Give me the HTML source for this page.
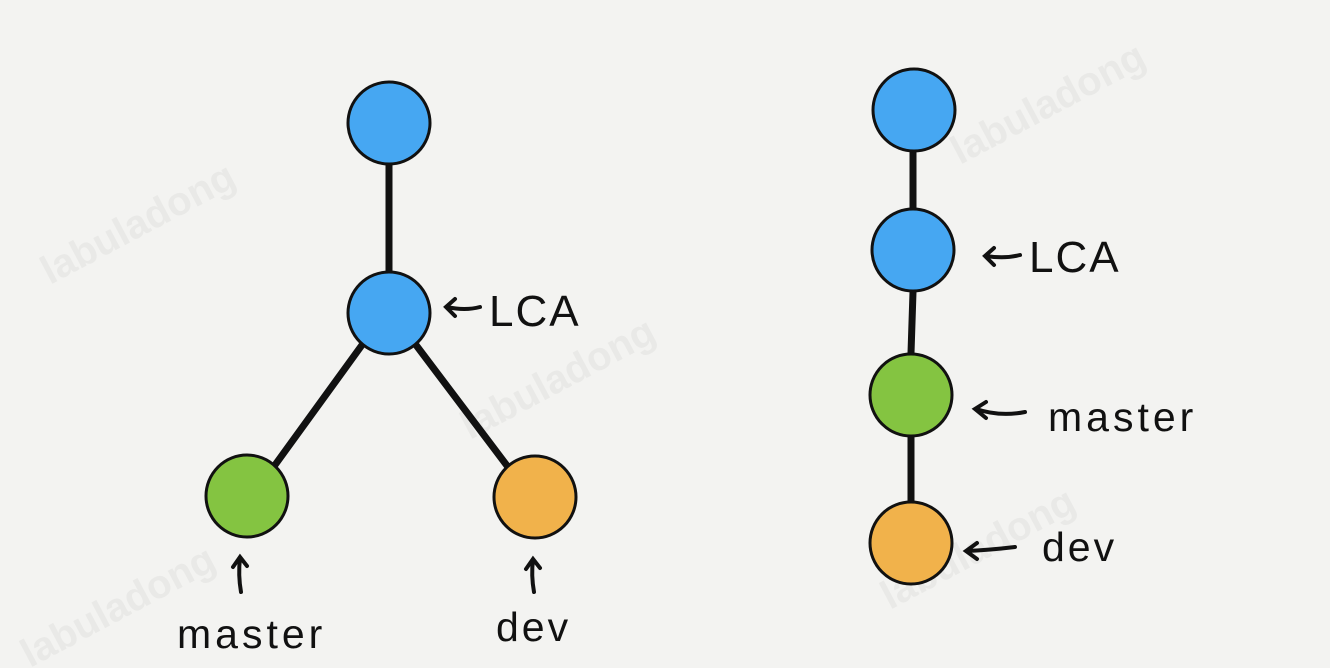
<!DOCTYPE html>
<html><head><meta charset="utf-8"><style>
html,body{margin:0;padding:0;background:#f3f3f1;}
svg{display:block}
text{font-family:"Liberation Sans","DejaVu Sans",sans-serif;fill:#111;font-size:40px;}
.wm{fill:#e9e9e7;font-size:40px;font-weight:bold}
</style></head><body>
<svg width="1330" height="668" viewBox="0 0 1330 668">
<rect width="1330" height="668" fill="#f3f3f1"/>
<text class="wm" transform="translate(50,285) rotate(-28)">labuladong</text>
<text class="wm" transform="translate(470,440) rotate(-28)">labuladong</text>
<text class="wm" transform="translate(960,165) rotate(-28)">labuladong</text>
<text class="wm" transform="translate(890,610) rotate(-28)">labuladong</text>
<text class="wm" transform="translate(30,668) rotate(-28)">labuladong</text>
<g stroke="#111" stroke-width="7" stroke-linecap="round" fill="none">
<line x1="389" y1="165" x2="389" y2="272"/>
<line x1="362" y1="345" x2="275" y2="465"/>
<line x1="416" y1="345" x2="508" y2="467"/>
<line x1="913" y1="152" x2="913" y2="208"/>
<line x1="913" y1="292" x2="911" y2="353"/>
<line x1="911" y1="437" x2="911" y2="501"/>
</g>
<g stroke="#111" stroke-width="3">
<circle cx="389" cy="123" r="41" fill="#46a7f2"/>
<circle cx="389" cy="313" r="41" fill="#46a7f2"/>
<circle cx="247" cy="496" r="41" fill="#84c441"/>
<circle cx="535" cy="497" r="41" fill="#f1b24b"/>
<circle cx="914" cy="110" r="41" fill="#46a7f2"/>
<circle cx="913" cy="250" r="41" fill="#46a7f2"/>
<circle cx="911" cy="395" r="41" fill="#84c441"/>
<circle cx="911" cy="543" r="41" fill="#f1b24b"/>
</g>
<g stroke="#111" stroke-width="4" stroke-linecap="round" fill="none">
<path d="M447 307 Q465 311 480 307 M455 299 L446 307 L455 316"/>
<path d="M986 256 Q1005 259 1020 255 M994 248 L985 256 L994 265"/>
<path d="M976 409 Q1000 417 1025 412 M986 402 L975 409 L986 418"/>
<path d="M967 551 Q990 550 1015 547 M977 543 L966 551 L977 559"/>
<path d="M241 592 Q238 575 240 558 M233 567 L240 557 L247 566"/>
<path d="M534 592 Q531 575 533 560 M526 569 L533 559 L540 568"/>
</g>
<text x="489" y="326" style="font-size:44px;letter-spacing:2px">LCA</text>
<text x="1029" y="272" style="font-size:44px;letter-spacing:2px">LCA</text>
<text x="1048" y="431" style="font-size:41px;letter-spacing:4px">master</text>
<text x="1042" y="561" style="font-size:41px;letter-spacing:3px">dev</text>
<text x="177" y="648" style="font-size:41px;letter-spacing:4px">master</text>
<text x="496" y="641" style="font-size:41px;letter-spacing:3px">dev</text>
</svg>
</body></html>
